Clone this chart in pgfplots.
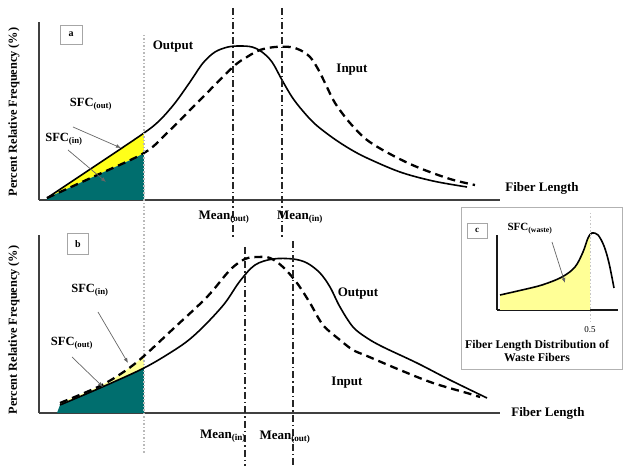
\documentclass[border=0pt]{standalone}
\usepackage{pgfplots}
\pgfplotsset{compat=1.18}
\usepgfplotslibrary{fillbetween}
\usetikzlibrary{arrows.meta}
\usepackage{fontspec}
\setmainfont{Liberation Serif}
\definecolor{tealfill}{RGB}{0,110,110}
\definecolor{yelA}{RGB}{255,255,25}
\definecolor{yelPale}{RGB}{255,255,150}
\newcommand{\lab}{\fontsize{13}{15}\selectfont\bfseries}
\newcommand{\ylab}{\fontsize{12.3}{14}\selectfont\bfseries}
\newcommand{\sfc}{\fontsize{12.5}{14}\selectfont\bfseries}
\pgfplotsset{
  panel/.style={x=1pt, y=1pt, anchor=south west, axis lines=left,
    axis line style={-, line width=1.8pt, black!75},
    xtick=\empty, ytick=\empty, clip=false},
  outline/.style={black, line width=1.6pt, smooth, tension=0.55, no marks},
  inline/.style={black, line width=2.3pt, dash pattern=on 8pt off 5pt, smooth, tension=0.55, no marks},
  meanline/.style={black!85, line width=1.1pt, dash pattern=on 7pt off 3pt on 1.5pt off 3pt, no marks},
  dotline/.style={gray!55, line width=1.3pt, dash pattern=on 1.5pt off 2pt, no marks},
}
\begin{document}
\begin{tikzpicture}
% ---------------- panel a ----------------
\begin{axis}[panel, at={(39pt,266pt)}, xmin=39, xmax=500, ymin=0, ymax=178]
\addplot[draw=none, name path=baseA] coordinates {(39,0) (500,0)};
\addplot[outline, name path=outA] coordinates {(47,2) (95,34) (144,67) (160,80) (175,97) (190,118) (203,137) (215,148) (228,153) (240,154) (252,153) (262,148) (272,138) (282,120) (292,103) (302,90) (315,76) (333,62) (350,51) (367,42) (400,28) (433,19) (467,13)};
\addplot[inline, name path=inA] coordinates {(47,2) (95,24) (144,47) (167,67) (200,100) (233,133) (247,143) (260,150) (275,153) (290,153) (300,150) (310,143) (318,131) (326,115) (335,97) (350,77) (367,60) (390,46) (417,33) (450,21) (475,15)};
\addplot[yelA] fill between[of=outA and inA, soft clip={domain=47:144}];
\addplot[tealfill] fill between[of=inA and baseA, soft clip={domain=47:144}];
\addplot[dotline] coordinates {(144,165) (144,-253)};
\addplot[meanline] coordinates {(233,192) (233,-40)};
\addplot[meanline] coordinates {(282,192) (282,-38)};
\node[draw=gray!70, line width=0.8pt, minimum width=22pt, minimum height=19pt, inner sep=0pt, font=\fontsize{10}{12}\selectfont\bfseries] at (axis cs:71,165.5) {a};
\node[font=\lab] at (axis cs:173,153) {Output};
\node[font=\lab] at (axis cs:352,130) {Input};
\node[font=\lab] at (axis cs:542,12) {Fiber Length};
\node[font=\lab, inner sep=1pt] at (axis cs:224,-17) {Mean\textsubscript{(out)}};
\node[font=\lab, inner sep=1pt] at (axis cs:300,-17) {Mean\textsubscript{(in)}};
\node[font=\ylab, rotate=90] at (axis cs:14,88) {Percent Relative Frequency (\%)};
\node[font=\sfc] at (axis cs:91,96) {SFC\textsubscript{(out)}};
\node[font=\sfc] at (axis cs:64,61) {SFC\textsubscript{(in)}};
\draw[gray!80!black, line width=0.7pt, -{Latex[length=5pt,width=4pt]}] (axis cs:73,73) -- (axis cs:121,52);
\draw[gray!80!black, line width=0.7pt, -{Latex[length=5pt,width=4pt]}] (axis cs:68,50) -- (axis cs:106,18);
\end{axis}
% ---------------- panel b ----------------
\begin{axis}[panel, at={(39pt,53pt)}, xmin=39, xmax=500, ymin=0, ymax=178]
\addplot[draw=none, name path=baseB] coordinates {(39,0) (500,0)};
\addplot[outline, name path=outB] coordinates {(60,8) (100,25) (144,45) (173,62) (190,74) (207,90) (225,110) (240,132) (255,148) (273,154) (293,154) (307,150) (320,140) (330,126) (340,106) (353,86) (367,75) (383,66) (417,50) (450,33) (487,15)};
\addplot[inline, name path=inB] coordinates {(60,10) (100,27) (125,42) (144,57) (173,84) (207,116) (230,143) (245,154) (258,156) (270,155) (283,146) (297,130) (310,110) (323,88) (340,73) (353,63) (367,57) (400,43) (433,30) (467,20) (480,16)};
\addplot[yelPale] fill between[of=inB and outB, soft clip={domain=60:144}];
\addplot[tealfill] fill between[of=outB and baseB, soft clip={domain=57:144}];
\addplot[meanline] coordinates {(245,166) (245,-53)};
\addplot[meanline] coordinates {(293,172) (293,-53)};
\node[draw=gray!70, line width=0.8pt, minimum width=21pt, minimum height=21pt, inner sep=0pt, font=\fontsize{10}{12}\selectfont\bfseries] at (axis cs:78,169) {b};
\node[font=\lab] at (axis cs:358,119) {Output};
\node[font=\lab] at (axis cs:347,30) {Input};
\node[font=\lab] at (axis cs:548,0) {Fiber Length};
\node[font=\lab, inner sep=1pt] at (axis cs:223,-23) {Mean\textsubscript{(in)}};
\node[font=\lab, inner sep=1pt] at (axis cs:285,-24) {Mean\textsubscript{(out)}};
\node[font=\ylab, rotate=90] at (axis cs:14,83) {Percent Relative Frequency (\%)};
\node[font=\sfc] at (axis cs:90,123) {SFC\textsubscript{(in)}};
\node[font=\sfc] at (axis cs:72,70) {SFC\textsubscript{(out)}};
\draw[gray!80!black, line width=0.7pt, -{Latex[length=5pt,width=4pt]}] (axis cs:98,101) -- (axis cs:128,50);
\draw[gray!80!black, line width=0.7pt, -{Latex[length=5pt,width=4pt]}] (axis cs:72,56) -- (axis cs:103,26);
\end{axis}
% ---------------- panel c ----------------
\begin{axis}[panel, at={(497pt,156pt)}, xmin=497, xmax=618, ymin=0, ymax=75,
  axis line style={-, line width=2.2pt, black!90}]
\draw[gray!60, line width=1pt] (axis cs:461,102) rectangle (axis cs:622,-59);
\addplot[draw=none, name path=baseC] coordinates {(497,0) (618,0)};
\addplot[outline, name path=curC] coordinates {(500,15) (522,20) (542,25) (562,33) (575,43) (583,58) (588,72) (592,77) (598,75) (604,64) (609,47) (614,22)};
\addplot[yelPale] fill between[of=curC and baseC, soft clip={domain=500:590}];
\addplot[gray!45, line width=1pt, dash pattern=on 1.5pt off 2pt] coordinates {(590,97) (590,-12)};
\node[draw=gray!70, line width=0.8pt, minimum width=20pt, minimum height=15pt, inner sep=0pt, font=\fontsize{9}{11}\selectfont\bfseries] at (axis cs:477,79.5) {c};
\node[font=\fontsize{11}{13}\selectfont\bfseries] at (axis cs:530,81) {SFC\textsubscript{(waste)}};
\draw[gray!80!black, line width=0.7pt, -{Latex[length=5pt,width=4pt]}] (axis cs:552,68) -- (axis cs:565,27);
\node[font=\fontsize{9}{11}\selectfont] at (axis cs:590,-20) {0.5};
\node[font=\fontsize{11.8}{13.5}\selectfont\bfseries, align=center] at (axis cs:537,-41) {Fiber Length Distribution of\\Waste Fibers};
\end{axis}
\pgfresetboundingbox
\useasboundingbox (0,0) rectangle (625pt,466pt);
\end{tikzpicture}
\end{document}
